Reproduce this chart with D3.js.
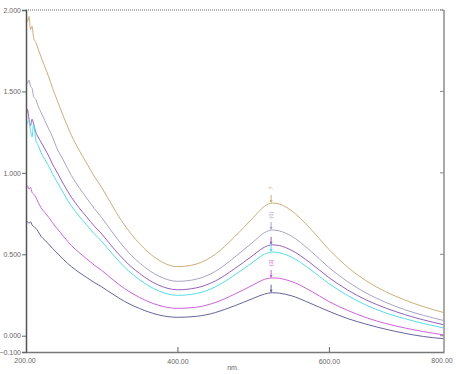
<!DOCTYPE html>
<html>
<head>
<meta charset="utf-8">
<script src="https://cdn.jsdelivr.net/npm/d3@7/dist/d3.min.js"></script>
<style>
  body { margin: 0; background: #fff; }
  svg { display: block; }
  text { font-family: "Liberation Sans", Arial, sans-serif; fill: #666; }
</style>
</head>
<body>
<div id="chart"></div>
<script>
// absorbance spectra, wavelength in nm
var wavelengths = [200, 202, 204, 206, 208, 210, 213, 216, 220, 225, 230, 235, 240, 250, 260, 270, 280, 290, 300,
  315, 330, 350, 375, 400, 425, 450, 475, 500, 515, 525, 535, 550, 575, 600, 625, 650, 675, 700, 725, 751];

var s7 = [1.97, 1.93, 1.96, 1.88, 1.90, 1.83, 1.80, 1.76, 1.71, 1.65, 1.59, 1.52, 1.46, 1.34, 1.23, 1.14, 1.06, 0.98, 0.91,
  0.79, 0.68, 0.565, 0.465, 0.424, 0.44, 0.50, 0.605, 0.725, 0.795, 0.815, 0.808, 0.77, 0.66, 0.53, 0.42, 0.335, 0.27, 0.22, 0.178, 0.143];
var s6 = [1.58, 1.55, 1.57, 1.53, 1.52, 1.47, 1.45, 1.41, 1.37, 1.32, 1.27, 1.22, 1.16, 1.072, 0.983, 0.911, 0.846, 0.782, 0.725,
  0.629, 0.540, 0.447, 0.367, 0.334, 0.347, 0.395, 0.480, 0.576, 0.633, 0.649, 0.643, 0.613, 0.524, 0.419, 0.331, 0.26, 0.205, 0.16, 0.125, 0.094];
var s5 = [1.33, 1.39, 1.33, 1.29, 1.33, 1.30, 1.25, 1.22, 1.188, 1.146, 1.103, 1.054, 1.012, 0.927, 0.850, 0.786, 0.730, 0.674, 0.625,
  0.540, 0.463, 0.382, 0.311, 0.282, 0.294, 0.336, 0.410, 0.494, 0.544, 0.558, 0.553, 0.526, 0.449, 0.357, 0.280, 0.218, 0.17, 0.13, 0.097, 0.068];
var s4 = [1.29, 1.31, 1.32, 1.26, 1.22, 1.30, 1.20, 1.17, 1.123, 1.082, 1.041, 0.994, 0.953, 0.871, 0.796, 0.735, 0.681, 0.626, 0.579,
  0.497, 0.422, 0.344, 0.276, 0.248, 0.259, 0.300, 0.371, 0.453, 0.501, 0.514, 0.509, 0.484, 0.409, 0.320, 0.246, 0.186, 0.14, 0.105, 0.075, 0.048];
var s3 = [0.91, 0.92, 0.90, 0.91, 0.88, 0.87, 0.85, 0.82, 0.785, 0.756, 0.727, 0.694, 0.665, 0.607, 0.554, 0.511, 0.473, 0.434, 0.401,
  0.343, 0.290, 0.235, 0.187, 0.168, 0.175, 0.204, 0.254, 0.312, 0.346, 0.355, 0.352, 0.334, 0.278, 0.21, 0.155, 0.11, 0.075, 0.048, 0.025, 0.006];
var s2 = [0.71, 0.70, 0.69, 0.70, 0.68, 0.67, 0.66, 0.64, 0.609, 0.586, 0.563, 0.536, 0.513, 0.466, 0.424, 0.389, 0.358, 0.327, 0.300,
  0.254, 0.211, 0.167, 0.128, 0.113, 0.119, 0.142, 0.183, 0.229, 0.256, 0.264, 0.261, 0.246, 0.2, 0.15, 0.105, 0.07, 0.04, 0.015, -0.005, -0.018];

var seriesNames = ["7", "6", "5", "4", "3", "2"];
var seriesValues = [s7, s6, s5, s4, s3, s2];
var colours = ["#cdae78", "#aba3c4", "#9460bc", "#55dde6", "#cb63d8", "#65649a"];
var peakLabels = ["7", "(6)", "", "", "(3)", ""];

var yTicks = [2.0, 1.5, 1.0, 0.5, 0.0, -0.1];
var xTicks = [400, 600];
var xCornerLabels = ["200.00", "800.00"];
var peakWl = 525;

var width = 456, height = 374;
var margin = {top: 10, right: 12, bottom: 22, left: 26};

var svg = d3.select("#chart").append("svg")
  .attr("width", width)
  .attr("height", height);

var x = d3.scaleLinear()
  .domain([200, 752])
  .range([margin.left, width - margin.right]);
var y = d3.scaleLinear()
  .domain([-0.1, 2.0])
  .range([height - margin.bottom, margin.top]);

svg.append("clipPath").attr("id", "plotclip")
  .append("rect")
  .attr("x", margin.left).attr("y", margin.top)
  .attr("width", width - margin.left - margin.right)
  .attr("height", height - margin.top - margin.bottom);

//frame: dotted top, grey right
svg.append("line")
  .attr("x1", margin.left).attr("x2", width - margin.right)
  .attr("y1", margin.top).attr("y2", margin.top)
  .style("stroke", "#999").style("stroke-width", 1.5).style("stroke-dasharray", "1,1");
svg.append("line")
  .attr("x1", width - margin.right).attr("x2", width - margin.right)
  .attr("y1", margin.top).attr("y2", height - margin.bottom)
  .style("stroke", "#aaa").style("stroke-width", 2);

//curves
var line = d3.line()
  .curve(d3.curveMonotoneX)
  .x(function (d) { return x(d[0]); })
  .y(function (d) { return y(d[1]); });

var curves = svg.append("g").attr("clip-path", "url(#plotclip)");
seriesValues.forEach(function (vals, i) {
  curves.append("path")
    .datum(wavelengths.map(function (w, j) { return [w, vals[j]]; }))
    .attr("d", line)
    .style("fill", "none")
    .style("stroke", colours[i])
    .style("stroke-width", 1);
});

//peak pick markers
seriesValues.forEach(function (vals, i) {
  var pv = vals[wavelengths.indexOf(peakWl)];
  var px = x(peakWl) - 1, py = y(pv);
  svg.append("line")
    .attr("x1", px).attr("x2", px)
    .attr("y1", py - 8).attr("y2", py - 1)
    .style("stroke", colours[i]).style("stroke-width", 1);
  svg.append("path")
    .attr("d", "M" + (px - 1.5) + "," + (py - 3) + "L" + (px + 1.5) + "," + (py - 3) + "L" + px + "," + py + "Z")
    .style("fill", colours[i]);
  if (peakLabels[i]) {
    svg.append("text")
      .attr("transform", "translate(" + (px + 2) + "," + (py - 15) + ") rotate(-90)")
      .attr("text-anchor", "middle")
      .style("font-size", "6px")
      .style("fill", colours[i])
      .text(peakLabels[i]);
  }
});

//axes
var yAxis = d3.axisLeft(y)
  .tickValues(yTicks)
  .tickSize(4)
  .tickPadding(1)
  .tickFormat(d3.format(".3f"));
var gy = svg.append("g")
  .attr("transform", "translate(" + margin.left + ",0)")
  .call(yAxis);
gy.select(".domain").style("stroke", "#555").style("stroke-width", 1.5);
gy.selectAll(".tick line").style("stroke", "#666");
gy.selectAll(".tick text").style("font-size", "7px").style("fill", "#666")
  .style("font-family", "Liberation Sans, Arial, sans-serif");

//inner ticks on the right edge
svg.append("g")
  .selectAll("line")
  .data(yTicks.slice(0, 5))
  .enter().append("line")
  .attr("x1", width - margin.right - 4).attr("x2", width - margin.right)
  .attr("y1", function (d) { return y(d); }).attr("y2", function (d) { return y(d); })
  .style("stroke", "#888");

var xAxis = d3.axisBottom(x)
  .tickValues(xTicks)
  .tickSizeInner(-5)
  .tickSizeOuter(0)
  .tickPadding(7)
  .tickFormat(d3.format(".2f"));
var gx = svg.append("g")
  .attr("transform", "translate(0," + (height - margin.bottom) + ")")
  .call(xAxis);
gx.select(".domain").style("stroke", "#777").style("stroke-width", 1.5);
gx.selectAll(".tick line").style("stroke", "#666");
gx.selectAll(".tick text").style("font-size", "7px").style("fill", "#666")
  .style("font-family", "Liberation Sans, Arial, sans-serif");

svg.selectAll(".corner")
  .data(xCornerLabels)
  .enter().append("text")
  .attr("class", "corner")
  .attr("x", function (d, i) { return x.range()[i] - (i ? 2 : 1); })
  .attr("y", height - margin.bottom + 11)
  .attr("text-anchor", "middle")
  .style("font-size", "7px")
  .text(function (d) { return d; });

svg.append("text")
  .attr("x", 233)
  .attr("y", height - 4)
  .attr("text-anchor", "middle")
  .style("font-size", "7px")
  .text("nm.");
</script>
</body>
</html>
